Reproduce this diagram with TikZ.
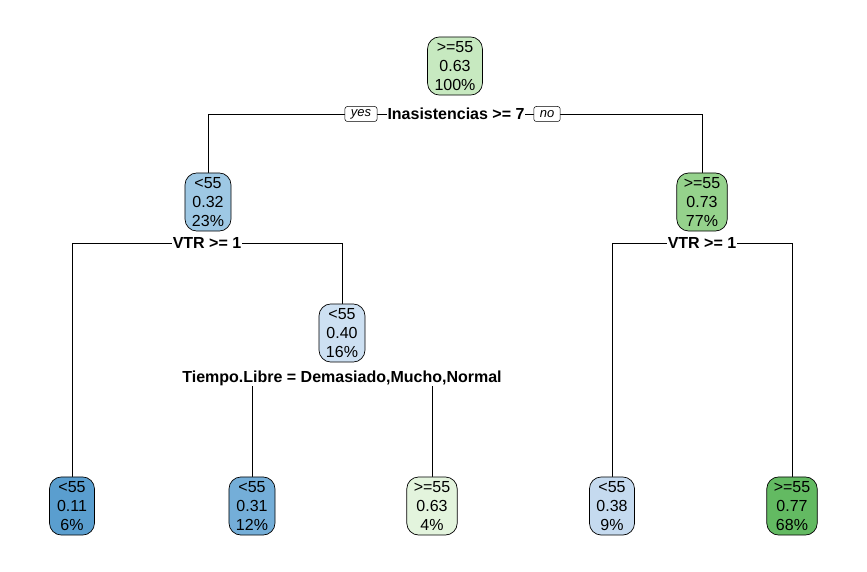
\documentclass[tikz,border=0pt]{standalone}
\usepackage{fontspec}
\setmainfont{Liberation Sans}
\usepackage{xcolor}
\usetikzlibrary{backgrounds}
\definecolor{gn1}{HTML}{C7E9C0}
\definecolor{gn2}{HTML}{95D28C}
\definecolor{gn3}{HTML}{E3F4DD}
\definecolor{gn4}{HTML}{63BA62}
\definecolor{bl1}{HTML}{9EC8E4}
\definecolor{bl2}{HTML}{CDE0F2}
\definecolor{bl3}{HTML}{5A9ECF}
\definecolor{bl4}{HTML}{74AED8}
\definecolor{bl5}{HTML}{C5DAEF}
\tikzstyle{leaf} = [rectangle, draw, line width=0.7pt, rounded corners=12pt, align=center,
    font=\fontsize{16}{19}\selectfont, inner xsep=7pt, inner ysep=4.5pt, minimum width=45pt]
\tikzstyle{split} = [fill=white, font=\fontsize{16}{18}\selectfont\bfseries, inner sep=1pt]
\tikzstyle{answer} = [draw, fill=white, line width=0.5pt, rounded corners=2.5pt,
    font=\fontsize{13}{14}\selectfont\itshape, inner xsep=6pt, inner ysep=0pt, minimum height=15pt]
\tikzstyle{line} = [draw, line width=0.6pt]

\begin{document}
\begin{tikzpicture}[x=1pt, y=-1pt]
      \useasboundingbox (0,0) rectangle (867,572);
      % Nodes
      \node [leaf, fill=gn1] (root) at (455,66) {>=55\\0.63\\100\%};
      \node [split] (s-root) at (456,114) {Inasistencias >= 7};
      \node [answer] (yes) at (361,114) {yes};
      \node [answer] (no) at (547,114) {no};
      \node [leaf, fill=bl1] (inas-yes) at (208,202) {<55\\0.32\\23\%};
      \node [split] (s-vtr-l) at (207,243) {VTR >= 1};
      \node [leaf, fill=gn2] (inas-no) at (702,202) {>=55\\0.73\\77\%};
      \node [split] (s-vtr-r) at (702,243) {VTR >= 1};
      \node [leaf, fill=bl2] (vtr-l-no) at (342,333) {<55\\0.40\\16\%};
      \node [split] (s-tiempo) at (342,378) {Tiempo.Libre = Demasiado,Mucho,Normal};
      % Leaves
      \node [leaf, fill=bl3] (leaf-1) at (72,506) {<55\\0.11\\6\%};
      \node [leaf, fill=bl4] (leaf-2) at (252,506) {<55\\0.31\\12\%};
      \node [leaf, fill=gn3] (leaf-3) at (432,506) {>=55\\0.63\\4\%};
      \node [leaf, fill=bl5] (leaf-4) at (612,506) {<55\\0.38\\9\%};
      \node [leaf, fill=gn4] (leaf-5) at (792,506) {>=55\\0.77\\68\%};
      % Draw edges
      \begin{pgfonlayer}{background}
      \path [line] (s-root.center) -| (inas-yes.north);
      \path [line] (s-root.center) -| (inas-no.north);
      \path [line] (s-vtr-l.center) -| (leaf-1.north);
      \path [line] (s-vtr-l.center) -| (vtr-l-no.north);
      \path [line] (s-tiempo.center) -| (leaf-2.north);
      \path [line] (s-tiempo.center) -| (leaf-3.north);
      \path [line] (s-vtr-r.center) -| (leaf-4.north);
      \path [line] (s-vtr-r.center) -| (leaf-5.north);
      \end{pgfonlayer}
  \end{tikzpicture}
\end{document}
